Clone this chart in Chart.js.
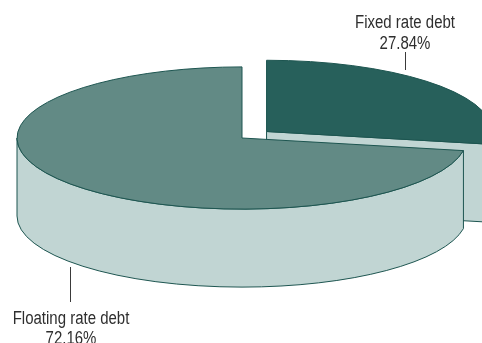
<!DOCTYPE html>
<html>
<head>
<meta charset="utf-8">
<script src="https://cdn.jsdelivr.net/npm/chart.js@4/dist/chart.umd.min.js"></script>
<style>
  html, body { margin: 0; padding: 0; background: #fff; }
  #wrap { width: 482px; height: 343px; }
</style>
</head>
<body>
<div id="wrap"><canvas id="debt-chart"></canvas></div>
<script>
// debt split, percent of total
const categories = ['Fixed rate debt', 'Floating rate debt'];
const shares = [27.84, 72.16];

const TILT = 0.316;   // vertical squash of the disc
const DEPTH = 78;     // height of the side walls
const WALL = '#c1d5d3';
const EDGE = '#1d5550';

// where a slice really sits on screen (arc offset is applied as offset/4 by Chart.js)
function sliceGeom(arc) {
  const off = (arc.options.offset || 0) / 4;
  const mid = (arc.startAngle + arc.endAngle) / 2;
  const fix = 1 - Math.sin(Math.min(Math.PI, arc.circumference || 0));
  return {
    cx: arc.x + Math.cos(mid) * off,
    cy: arc.y + Math.sin(mid) * off * TILT,
    r: arc.outerRadius + off * fix,
    a0: arc.startAngle,
    a1: arc.endAngle
  };
}

function drawWalls(ctx, g) {
  const { cx, cy, r, a0, a1 } = g;
  const ry = r * TILT;
  const pt = a => [cx + r * Math.cos(a), cy + ry * Math.sin(a)];
  // cut faces that turn toward the viewer
  [[a0, Math.cos(a0) < -1e-6], [a1, Math.cos(a1) > 1e-6]].forEach(([a, show]) => {
    if (!show) return;
    const [px, py] = pt(a);
    ctx.beginPath();
    ctx.moveTo(cx, cy);
    ctx.lineTo(px, py);
    ctx.lineTo(px, py + DEPTH);
    ctx.lineTo(cx, cy + DEPTH);
    ctx.closePath();
    ctx.fill();
    ctx.stroke();
  });
  // rim, front half only
  for (let k = -1; k <= 1; k++) {
    const s = Math.max(a0, k * 2 * Math.PI);
    const e = Math.min(a1, k * 2 * Math.PI + Math.PI);
    if (e <= s) continue;
    ctx.beginPath();
    ctx.ellipse(cx, cy, r, ry, 0, s, e);
    ctx.ellipse(cx, cy + DEPTH, r, ry, 0, e, s, true);
    ctx.closePath();
    ctx.fill();
    ctx.stroke();
  }
}

function drawLabel(ctx, lines, x, baselines, sx) {
  lines.forEach((t, i) => {
    ctx.save();
    ctx.translate(x, baselines[i]);
    ctx.scale(sx, 1);
    ctx.fillText(t, 0, 0);
    ctx.restore();
  });
}

const pie3d = {
  id: 'pie3d',
  beforeDatasetsDraw(chart) {
    const ctx = chart.ctx;
    const arcs = chart.getDatasetMeta(0).data;
    // back slices first
    const geoms = arcs.map(sliceGeom).sort((a, b) => a.cy - b.cy);
    ctx.save();
    ctx.fillStyle = WALL;
    ctx.strokeStyle = EDGE;
    ctx.lineWidth = 1;
    geoms.forEach(g => drawWalls(ctx, g));
    ctx.restore();
    // squash the faces Chart.js draws next
    const c = arcs[0];
    ctx.save();
    ctx.translate(c.x, c.y);
    ctx.scale(1, TILT);
    ctx.translate(-c.x, -c.y);
  },
  afterDatasetsDraw(chart) {
    const ctx = chart.ctx;
    ctx.restore();
    const arcs = chart.getDatasetMeta(0).data;
    // outlines in screen space so they stay 1px
    ctx.save();
    ctx.strokeStyle = EDGE;
    ctx.lineWidth = 1;
    arcs.forEach(arc => {
      const g = sliceGeom(arc);
      ctx.beginPath();
      ctx.moveTo(g.cx, g.cy);
      ctx.ellipse(g.cx, g.cy, g.r, g.r * TILT, 0, g.a0, g.a1);
      ctx.closePath();
      ctx.stroke();
    });

    // labels with leader lines
    ctx.font = '18px "Liberation Sans Narrow", "Arial Narrow", "Liberation Sans", sans-serif';
    ctx.textAlign = 'center';
    ctx.textBaseline = 'alphabetic';
    ctx.fillStyle = '#2e2e2e';
    const sx = 100 / ctx.measureText(categories[0]).width;
    const pct = v => v.toFixed(2) + '%';
    drawLabel(ctx, [categories[0], pct(shares[0])], 405, [28, 48.5], sx);
    drawLabel(ctx, [categories[1], pct(shares[1])], 71, [323.5, 343.5], sx);

    ctx.strokeStyle = '#3a3a3a';
    ctx.beginPath();
    ctx.moveTo(405.5, 52);
    ctx.lineTo(405.5, 70);
    ctx.moveTo(70.5, 267);
    ctx.lineTo(70.5, 302);
    ctx.stroke();
    ctx.restore();
  }
};

new Chart(document.getElementById('debt-chart'), {
  type: 'pie',
  data: {
    labels: categories,
    datasets: [{
      data: shares,
      backgroundColor: ['#27605b', '#628a85'],
      borderWidth: 0,
      offset: [128, 0],
      radius: 225,
      clip: false
    }]
  },
  options: {
    responsive: true,
    maintainAspectRatio: false,
    animation: false,
    events: [],
    layout: { padding: { left: 2, right: 0, top: 0, bottom: 67 } },
    plugins: {
      legend: { display: false },
      tooltip: { enabled: false }
    }
  },
  plugins: [pie3d]
});
</script>
</body>
</html>
